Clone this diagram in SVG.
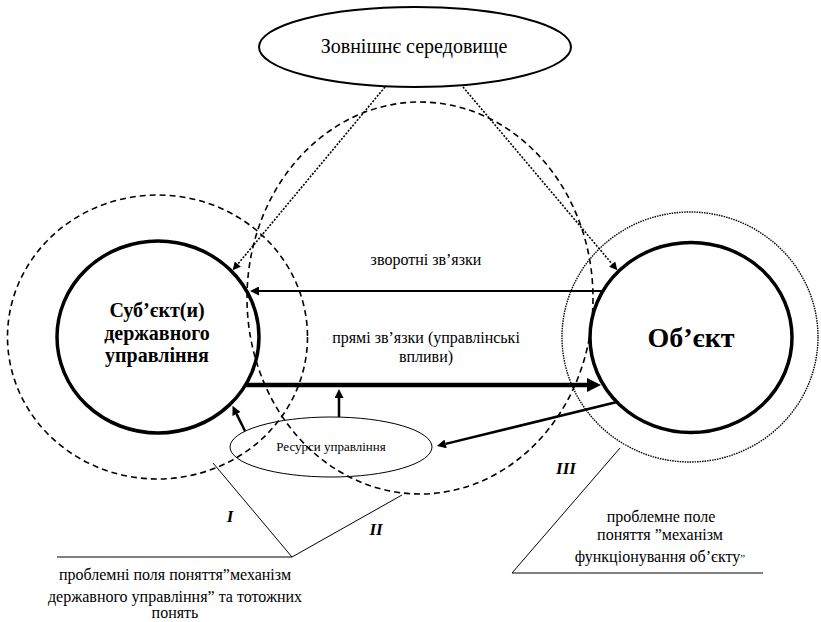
<svg xmlns="http://www.w3.org/2000/svg" width="821" height="622" viewBox="0 0 821 622">
  <style>
    .dash { fill: none; stroke: #000; stroke-width: 1.6; stroke-dasharray: 6 4; }
    .dotc { fill: none; stroke: #000; stroke-width: 1.4; stroke-dasharray: 1.5 1; }
    .dotl { fill: none; stroke: #000; stroke-width: 1.6; stroke-dasharray: 2 1.5; }
    .main { fill: none; stroke: #000; stroke-width: 3.5; }
    .thin { fill: none; stroke: #000; stroke-width: 1; }
    .arr { fill: none; stroke: #000; stroke-width: 2.5; }
  </style>
  <defs>
    <marker id="head" viewBox="0 0 10 10" refX="0" refY="5" markerWidth="11" markerHeight="9" markerUnits="userSpaceOnUse" orient="auto">
      <path d="M0,0 L10,5 L0,10 z" fill="#000"/>
    </marker>
    <marker id="headBig" viewBox="0 0 10 10" refX="0" refY="5" markerWidth="16" markerHeight="14" markerUnits="userSpaceOnUse" orient="auto">
      <path d="M0,0 L10,5 L0,10 z" fill="#000"/>
    </marker>
    <marker id="headDot" viewBox="0 0 10 10" refX="0" refY="5" markerWidth="9" markerHeight="8" markerUnits="userSpaceOnUse" orient="auto">
      <path d="M0,0 L10,5 L0,10 z" fill="#000"/>
    </marker>
  </defs>

  <!-- problem-field boundaries -->
  <g id="fields">
    <ellipse class="dash" cx="157.5" cy="337" rx="150" ry="142"/>
    <ellipse class="dash" cx="420" cy="298" rx="173" ry="196"/>
    <ellipse class="dotc" cx="690" cy="337" rx="128" ry="125"/>
  </g>

  <g id="environment">
    <ellipse cx="415" cy="47" rx="156" ry="40" fill="#fff" stroke="#000" stroke-width="2"/>
    <text font-family="Liberation Serif" font-size="20" text-anchor="middle" x="414" y="53">Зовнішнє середовище</text>
  </g>

  <g id="subject">
    <ellipse class="main" cx="158" cy="337" rx="101" ry="96"/>
    <text font-family="Liberation Serif" font-weight="bold" font-size="20" text-anchor="middle" x="157" y="317">Суб’єкт(и)</text>
    <text font-family="Liberation Serif" font-weight="bold" font-size="20" text-anchor="middle" x="157" y="340">державного</text>
    <text font-family="Liberation Serif" font-weight="bold" font-size="20" text-anchor="middle" x="157" y="362">управління</text>
  </g>

  <g id="object">
    <ellipse class="main" cx="691" cy="337.5" rx="101" ry="95"/>
    <text font-family="Liberation Serif" font-weight="bold" font-size="28" text-anchor="middle" x="691" y="347">Об’єкт</text>
  </g>

  <g id="resources">
    <ellipse class="thin" cx="331" cy="447" rx="101" ry="30"/>
    <text font-family="Liberation Serif" font-size="13" text-anchor="middle" x="331" y="451">Ресурси управління</text>
  </g>

  <g id="connectors">
    <!-- environment influences -->
    <line class="dotl" x1="385" y1="87" x2="237.8" y2="264.1" marker-end="url(#headDot)"/>
    <line class="dotl" x1="463" y1="87" x2="612.2" y2="264.1" marker-end="url(#headDot)"/>
    <!-- feedback -->
    <line x1="603" y1="291" x2="259" y2="291" stroke="#000" stroke-width="2" marker-end="url(#head)"/>
    <!-- direct control influence -->
    <line x1="246" y1="385" x2="587" y2="385" stroke="#000" stroke-width="4.5" marker-end="url(#headBig)"/>
    <!-- resources -->
    <line class="arr" x1="339" y1="417" x2="339" y2="398" marker-end="url(#head)"/>
    <line class="arr" x1="245" y1="431" x2="236.5" y2="413.9" marker-end="url(#head)"/>
    <line class="arr" x1="617" y1="402" x2="445.6" y2="443.9" marker-end="url(#head)"/>
  </g>

  <g id="edge-labels">
    <text font-family="Liberation Serif" font-size="16" text-anchor="middle" x="426" y="265">зворотні зв’язки</text>
    <text font-family="Liberation Serif" font-size="16" text-anchor="middle" x="426" y="343">прямі зв’язки (управлінські</text>
    <text font-family="Liberation Serif" font-size="16" text-anchor="middle" x="426" y="362">впливи)</text>
  </g>

  <g id="callout-left">
    <polyline class="thin" points="213,463 292,557 402,495"/>
    <line class="thin" x1="57" y1="557" x2="292" y2="557"/>
    <text font-family="Liberation Serif" font-size="17" font-weight="bold" font-style="italic" text-anchor="middle" x="230" y="522">I</text>
    <text font-family="Liberation Serif" font-size="17" font-weight="bold" font-style="italic" text-anchor="middle" x="376" y="535">II</text>
    <text font-family="Liberation Serif" font-size="16" text-anchor="middle" x="175" y="580">проблемні поля поняття”механізм</text>
    <text font-family="Liberation Serif" font-size="16" text-anchor="middle" x="175" y="602">державного управління” та тотожних</text>
    <text font-family="Liberation Serif" font-size="16" text-anchor="middle" x="175" y="618">понять</text>
  </g>

  <g id="callout-right">
    <polyline class="thin" points="620,448 512,573 763,573"/>
    <text font-family="Liberation Serif" font-size="17" font-weight="bold" font-style="italic" text-anchor="middle" x="566" y="474">III</text>
    <text font-family="Liberation Serif" font-size="16" text-anchor="middle" x="661" y="522">проблемне поле</text>
    <text font-family="Liberation Serif" font-size="16" text-anchor="middle" x="660" y="540">поняття ”механізм</text>
    <text font-family="Liberation Serif" font-size="16" text-anchor="middle" x="660" y="562">функціонування об’єкту<tspan font-size="11">”</tspan></text>
  </g>
</svg>
